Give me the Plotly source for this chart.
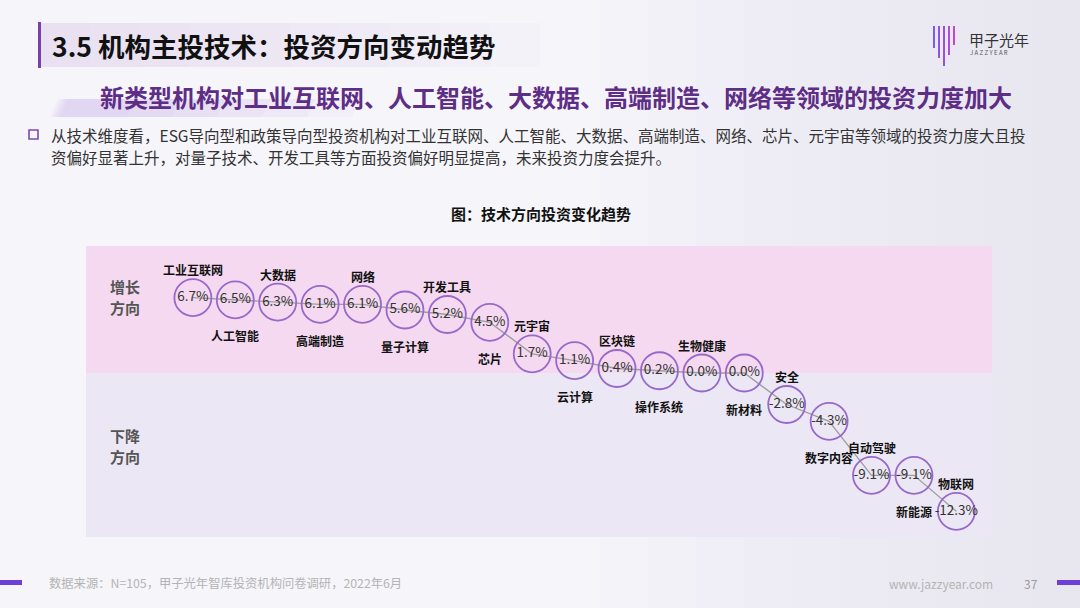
import plotly.graph_objects as go

# ---------------- data ----------------
categories = ["工业互联网", "人工智能", "大数据", "高端制造", "网络", "量子计算", "开发工具", "芯片",
              "元宇宙", "云计算", "区块链", "操作系统", "生物健康", "新材料", "安全", "数字内容",
              "自动驾驶", "新能源", "物联网"]
values = [6.7, 6.5, 6.3, 6.1, 6.1, 5.6, 5.2, 4.5, 1.7, 1.1, 0.4, 0.2, 0.0, 0.0, -2.8, -4.3, -9.1, -9.1, -12.3]
label_side = ["above", "below"] * 9 + ["above"]

title_text = "3.5 机构主投技术：投资方向变动趋势"
subtitle_text = "新类型机构对工业互联网、人工智能、大数据、高端制造、网络等领域的投资力度加大"
body_line1 = "从技术维度看，ESG导向型和政策导向型投资机构对工业互联网、人工智能、大数据、高端制造、网络、芯片、元宇宙等领域的投资力度大且投"
body_line2 = "资偏好显著上升，对量子技术、开发工具等方面投资偏好明显提高，未来投资力度会提升。"
chart_title = "图：技术方向投资变化趋势"
source_text = "数据来源：N=105，甲子光年智库投资机构问卷调研，2022年6月"

FONT = "Noto Sans CJK SC"
W, H = 1080, 608
L, R, T, B = 86, 992, 246, 537


def px(x):
    return (x - L) / (R - L)


def py(y):
    return (B - y) / (B - T)


fig = go.Figure()

x_idx = list(range(len(categories)))
fig.add_trace(go.Scatter(
    x=x_idx, y=values,
    mode="lines+markers+text",
    line=dict(color="#9e9e9e", width=1.3),
    marker=dict(size=37, color="rgba(0,0,0,0)", line=dict(color="#9869cb", width=1.8)),
    text=[f"{v:.1f}%" for v in values],
    textposition="middle center",
    textfont=dict(family=FONT, size=13.5, color="#333333"),
    hoverinfo="skip",
    showlegend=False,
    cliponaxis=False,
))

annotations = []
for i, (c, v, s) in enumerate(zip(categories, values, label_side)):
    annotations.append(dict(
        x=i, y=v, xref="x", yref="y", text=f"<b>{c}</b>", showarrow=False,
        yshift=28 if s == "above" else -36,
        font=dict(family=FONT, size=12, color="#111111"),
    ))

shapes = []
# background soft lavender gradient on right
for k in range(10):
    shapes.append(dict(type="rect", xref="paper", yref="paper",
                       x0=px(600 + k * 48), x1=px(W + 5), y0=py(-5), y1=py(H + 5),
                       fillcolor="rgba(225,215,245,0.06)", line=dict(width=0), layer="below"))
# bands
shapes.append(dict(type="rect", xref="paper", yref="y", x0=0, x1=1, y0=0, y1=11.29,
                   fillcolor="#f4d9f0", line=dict(width=0), layer="below"))
shapes.append(dict(type="rect", xref="paper", yref="y", x0=0, x1=1, y0=-14.58, y1=0,
                   fillcolor="#ece7f4", line=dict(width=0), layer="below"))
# title bar + gradient
shapes.append(dict(type="rect", xref="paper", yref="paper", x0=px(38), x1=px(41), y0=py(68), y1=py(22),
                   fillcolor="#7b3fa8", line=dict(width=0)))
for k in range(10):
    shapes.append(dict(type="rect", xref="paper", yref="paper", x0=px(41), x1=px(540 - k * 50),
                       y0=py(67), y1=py(23), fillcolor="rgba(220,208,242,0.07)",
                       line=dict(width=0), layer="below"))
# subtitle underlay parallelograms
for k in range(6):
    x0 = 50 + k * 2
    shapes.append(dict(type="path", xref="paper", yref="paper",
                       path=f"M {px(x0)} {py(117)} L {px(x0 + 8)} {py(99)} L {px(360 - k * 45)} {py(99)} L {px(352 - k * 45)} {py(117)} Z",
                       fillcolor="rgba(205,185,235,0.10)", line=dict(width=0), layer="below"))
# bullet square
shapes.append(dict(type="rect", xref="paper", yref="paper", x0=px(29), x1=px(38), y0=py(139), y1=py(130),
                   fillcolor="rgba(0,0,0,0)", line=dict(color="#7b4bb0", width=1.6)))
# footer bars
shapes.append(dict(type="rect", xref="paper", yref="paper", x0=px(0), x1=px(22), y0=py(585), y1=py(580),
                   fillcolor="#6d3fd6", line=dict(width=0)))
shapes.append(dict(type="rect", xref="paper", yref="paper", x0=px(1057), x1=px(1080), y0=py(585), y1=py(580),
                   fillcolor="#6d3fd6", line=dict(width=0)))
# logo lines
logo_x = [934, 939, 944, 949, 954]
logo_y1 = [48, 58, 66, 55, 45]
logo_c = ["#7a5cf0", "#8a55e8", "#9a4fe0", "#b04ad8", "#c646d0"]
for lx, ly, lc in zip(logo_x, logo_y1, logo_c):
    shapes.append(dict(type="line", xref="paper", yref="paper", x0=px(lx), x1=px(lx), y0=py(26), y1=py(ly),
                       line=dict(color=lc, width=2)))


def pa(text, x, y, size, color, xanchor="left", bold=False, yanchor="middle"):
    annotations.append(dict(
        xref="paper", yref="paper", x=px(x), y=py(y), text=f"<b>{text}</b>" if bold else text,
        showarrow=False, xanchor=xanchor, yanchor=yanchor,
        font=dict(family=FONT, size=size, color=color),
    ))


pa(title_text, 50, 45, 26.5, "#111111", bold=True)
pa(subtitle_text, 1014, 96, 24, "#5e2d86", xanchor="right", bold=True)
pa(body_line1, 49, 135, 15.5, "#333333")
pa(body_line2, 49, 157, 15.5, "#333333")
pa(chart_title, 541, 213, 15, "#111111", xanchor="center", bold=True)
pa("增长", 125, 286, 15, "#555555", xanchor="center", bold=True)
pa("方向", 125, 307, 15, "#555555", xanchor="center", bold=True)
pa("下降", 125, 435, 15, "#555555", xanchor="center", bold=True)
pa("方向", 125, 456, 15, "#555555", xanchor="center", bold=True)
pa(source_text, 47, 583, 12.3, "#b4b4b4")
pa("www.jazzyear.com", 995, 583, 12, "#b4b4b4", xanchor="right")
pa("37", 1040, 583, 12, "#9a9a9a", xanchor="right")
pa("甲子光年", 967, 39, 15, "#333333")
annotations.append(dict(xref="paper", yref="paper", x=px(968), y=py(53), text="J A Z Z Y E A R",
                        showarrow=False, xanchor="left", yanchor="middle",
                        font=dict(family=FONT, size=6, color="#555555")))

fig.update_layout(
    width=W, height=H,
    margin=dict(l=L, r=W - R, t=T, b=H - B),
    paper_bgcolor="#f6f5fa",
    plot_bgcolor="rgba(0,0,0,0)",
    xaxis=dict(range=[-2.52, 18.84], visible=False, fixedrange=True),
    yaxis=dict(range=[-14.58, 11.29], visible=False, fixedrange=True),
    shapes=shapes,
    annotations=annotations,
    showlegend=False,
)

fig.write_html("out.html", config={"displayModeBar": False},
               post_script="document.body.style.margin='0';document.body.style.overflow='hidden';")
